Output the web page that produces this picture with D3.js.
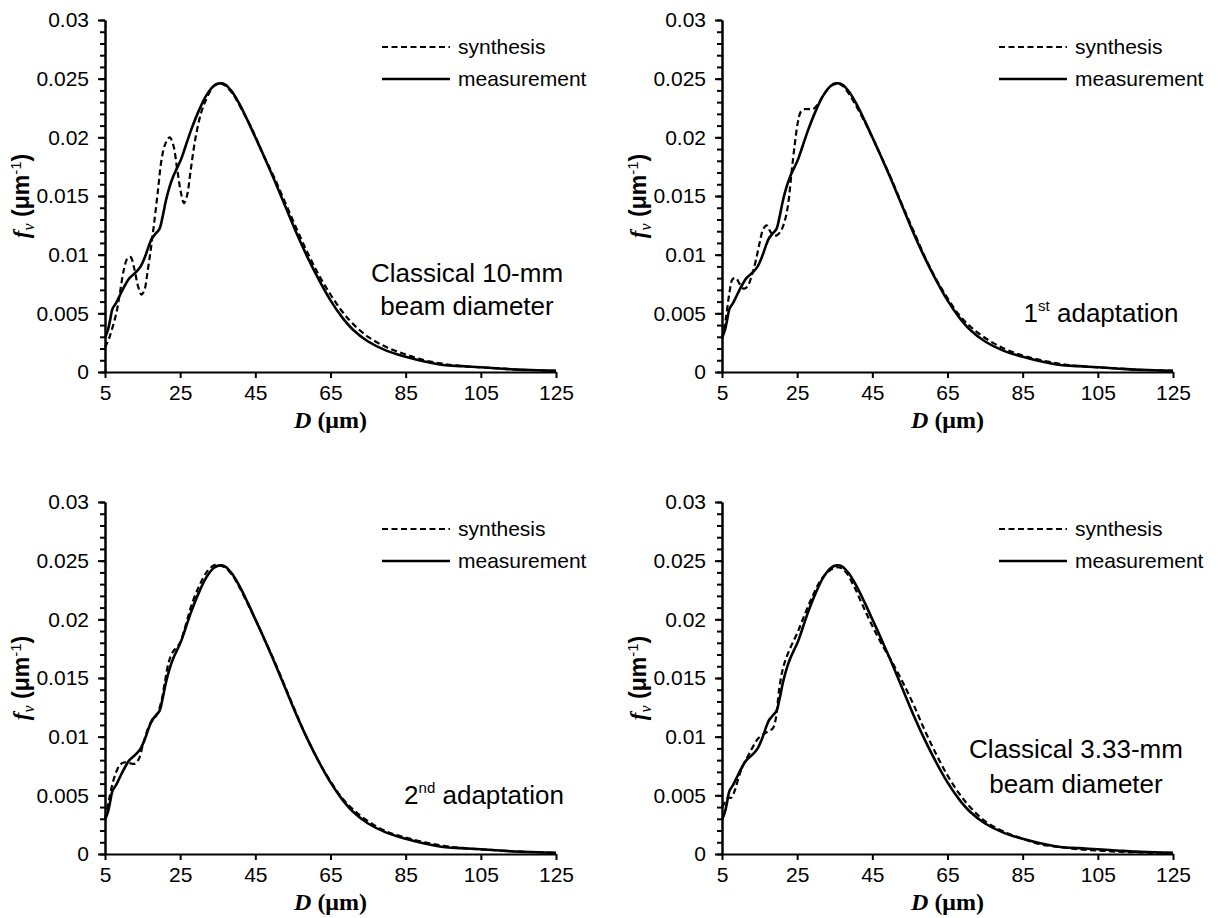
<!DOCTYPE html>
<html>
<head>
  <meta charset="utf-8">
  <script src="https://d3js.org/d3.v7.min.js"></script>
  <style>
    html, body { margin: 0; padding: 0; background: #fff; overflow: hidden; }
    svg { display: block; }
    svg text { font-family: "Liberation Sans", Arial, sans-serif; fill: #000; }
    .axis path, .axis line { stroke: #000; stroke-width: 2; }
    .axis text { font-size: 21px; }
  </style>
</head>
<body>
<div id="chart"></div>
<script>

    // tick values
    const xTicks = [5, 25, 45, 65, 85, 105, 125]
    const yTicks = [0, 0.005, 0.01, 0.015, 0.02, 0.025, 0.03]
    const yTickLabels = ["0", "0.005", "0.01", "0.015", "0.02", "0.025", "0.03"]

    // measured size distribution (same in every panel)
    const measD = [5, 5.8, 6.4, 7, 7.8, 8.6, 9.5, 10.5, 11.5, 12.5, 13.5, 14.5, 15.5, 16.5, 17.5, 18.5, 19.5, 20.3, 21.2, 22.2, 23.2, 24.2, 25.2, 26.5, 28, 30, 32, 34, 35.5, 37, 39, 41, 43, 45, 47, 50, 53, 56, 59, 62, 65, 68, 71, 75, 80, 85, 90, 95, 100, 105, 110, 115, 120, 125]
    const measF = [0.0029, 0.0036, 0.0045, 0.0054, 0.0058, 0.0063, 0.0069, 0.0075, 0.0080, 0.0083, 0.0086, 0.0090, 0.0097, 0.0106, 0.0114, 0.0118, 0.0122, 0.0132, 0.0146, 0.0158, 0.0167, 0.0174, 0.0181, 0.0193, 0.0207, 0.0223, 0.0236, 0.0244, 0.0246, 0.0245, 0.0238, 0.0227, 0.0214, 0.0200, 0.0186, 0.0164, 0.0141, 0.0118, 0.0097, 0.0078, 0.0061, 0.0047, 0.0036, 0.0026, 0.0018, 0.0013, 0.0009, 0.0006, 0.0005, 0.0004, 0.0003, 0.0002, 0.00015, 0.0001]

    // synthesis, classical 10-mm beam
    const syn10D = [5, 6, 7, 8, 9, 10, 11, 11.8, 12.8, 13.8, 14.7, 15.5, 16.3, 17.2, 18, 19, 20, 21, 22.2, 23.2, 24.2, 25.2, 26, 26.8, 27.8, 29, 30.5, 32, 34, 35.5, 37, 39, 41, 43, 45, 47, 50, 53, 56, 59, 62, 65, 68, 71, 75, 80, 85, 90, 95, 100, 105, 110, 115, 120, 125]
    const syn10F = [0.0021, 0.0028, 0.0038, 0.0050, 0.0068, 0.0087, 0.0097, 0.0098, 0.0088, 0.0073, 0.0066, 0.0070, 0.0085, 0.0105, 0.0125, 0.0152, 0.0180, 0.0194, 0.0200, 0.0193, 0.0173, 0.0153, 0.0144, 0.0150, 0.0172, 0.0198, 0.0220, 0.0233, 0.0244, 0.0246, 0.0244, 0.0237, 0.0226, 0.0214, 0.0201, 0.0186, 0.0166, 0.0144, 0.0122, 0.0101, 0.0082, 0.0066, 0.0052, 0.0041, 0.0030, 0.0021, 0.0015, 0.0010, 0.0007, 0.0005, 0.0004, 0.0003, 0.0002, 0.00015, 0.0001]

    // synthesis, 1st adaptation
    const synA1D = [5, 6, 7, 7.8, 8.7, 9.7, 10.8, 11.8, 13, 14, 15, 16, 16.9, 17.8, 18.8, 19.8, 20.8, 21.8, 22.6, 23.5, 24.4, 25.2, 26, 27, 28.2, 29.2, 30.5, 32, 34, 35.5, 37, 39, 41, 43, 45, 47, 50, 53, 56, 59, 62, 65, 68, 71, 75, 80, 85, 90, 95, 100, 105, 110, 115, 120, 125]
    const synA1F = [0.0028, 0.0045, 0.0068, 0.0079, 0.0080, 0.0075, 0.0071, 0.0073, 0.0083, 0.0095, 0.0110, 0.0122, 0.0125, 0.0120, 0.0116, 0.0117, 0.0121, 0.0130, 0.0143, 0.0170, 0.0195, 0.0213, 0.0222, 0.0224, 0.0224, 0.0224, 0.0228, 0.0236, 0.0244, 0.0246, 0.0244, 0.0236, 0.0225, 0.0213, 0.0200, 0.0186, 0.0165, 0.0142, 0.0120, 0.0098, 0.0079, 0.0063, 0.0049, 0.0039, 0.0029, 0.0020, 0.0014, 0.0010, 0.0007, 0.0005, 0.0004, 0.0003, 0.0002, 0.00015, 0.0001]

    // synthesis, 2nd adaptation
    const synA2D = [5, 6, 7, 8, 9, 10, 11, 12, 13, 14, 15, 16, 17, 18, 19, 20, 21, 22, 23, 24, 25, 26, 27, 28, 30, 32, 34, 35.5, 37, 39, 41, 43, 45, 47, 50, 53, 56, 59, 62, 65, 68, 71, 75, 80, 85, 90, 95, 100, 105, 110, 115, 120, 125]
    const synA2F = [0.0030, 0.0045, 0.0060, 0.0070, 0.0076, 0.0078, 0.0078, 0.0077, 0.0077, 0.0081, 0.0092, 0.0103, 0.0111, 0.0115, 0.0120, 0.0130, 0.0148, 0.0164, 0.0172, 0.0176, 0.0180, 0.0190, 0.0201, 0.0212, 0.0228, 0.0240, 0.0246, 0.0246, 0.0244, 0.0237, 0.0226, 0.0213, 0.0200, 0.0186, 0.0165, 0.0142, 0.0119, 0.0097, 0.0078, 0.0062, 0.0048, 0.0038, 0.0028, 0.0019, 0.0014, 0.0010, 0.0007, 0.0005, 0.0004, 0.0003, 0.0002, 0.00015, 0.0001]

    // synthesis, classical 3.33-mm beam
    const syn333D = [5, 5.8, 6.6, 7.5, 8.5, 9.5, 10.5, 11.5, 12.5, 13.5, 14.5, 15.5, 16.5, 17.5, 18.5, 19.3, 20.2, 21.2, 22.2, 23.5, 25, 27, 29, 31, 33, 35, 36.5, 38, 40, 42, 44, 46, 48, 50, 53, 56, 59, 62, 65, 68, 71, 75, 80, 85, 90, 95, 100, 105, 110, 115, 120, 125]
    const syn333F = [0.0040, 0.0044, 0.0048, 0.0048, 0.0055, 0.0066, 0.0075, 0.0081, 0.0087, 0.0093, 0.0098, 0.0101, 0.0103, 0.0105, 0.0107, 0.0115, 0.0140, 0.0158, 0.0168, 0.0178, 0.0188, 0.0204, 0.0219, 0.0232, 0.0240, 0.0244, 0.0244, 0.0240, 0.0229, 0.0215, 0.0201, 0.0188, 0.0176, 0.0165, 0.0147, 0.0127, 0.0105, 0.0085, 0.0067, 0.0052, 0.0040, 0.0028, 0.0019, 0.0013, 0.0008, 0.0006, 0.0004, 0.0003, 0.0002, 0.00015, 0.0001, 0.0001]

    const legendNames = ["synthesis", "measurement"]

    const panels = [
        { left: 105, top: 20,  synD: syn10D,  synF: syn10F,  note: ["Classical 10-mm", "beam diameter"], noteX: 362, noteY: [262, 295] },
        { left: 722, top: 20,  synD: synA1D,  synF: synA1F,  note: ["1", "st", " adaptation"], noteX: 379, noteY: [302] },
        { left: 105, top: 502, synD: synA2D,  synF: synA2F,  note: ["2", "nd", " adaptation"], noteX: 379, noteY: [302] },
        { left: 722, top: 502, synD: syn333D, synF: syn333F, note: ["Classical 3.33-mm", "beam diameter"], noteX: 354, noteY: [256, 291] }
    ]

    const width = 1218, height = 918
    const innerWidth = 451, innerHeight = 352

    const svg = d3.select("#chart").append("svg")
        .attr("width", width)
        .attr("height", height)

    const xScale = d3.scaleLinear().domain([5, 125]).range([0, innerWidth])
    const yScale = d3.scaleLinear().domain([0, 0.03]).range([innerHeight, 0])

    const line = d3.line()
        .x(d => xScale(d[0]))
        .y(d => yScale(d[1]))
        .curve(d3.curveCatmullRom.alpha(0.5))

    panels.forEach(p => {
        const g = svg.append("g").attr("transform", `translate(${p.left},${p.top})`)

        // minor ticks on y (no labels)
        g.append("g")
            .attr("class", "axis")
            .call(d3.axisLeft(yScale)
                .tickValues(d3.range(0, 0.0305, 0.001))
                .tickSize(5)
                .tickSizeOuter(0)
                .tickFormat(""))
            .selectAll("text").remove()

        g.append("g")
            .attr("class", "axis")
            .call(d3.axisLeft(yScale)
                .tickValues(yTicks)
                .tickSize(7)
                .tickSizeOuter(0)
                .tickPadding(9)
                .tickFormat((d, i) => yTickLabels[i]))

        g.append("g")
            .attr("class", "axis")
            .attr("transform", `translate(0,${innerHeight})`)
            .call(d3.axisBottom(xScale)
                .tickValues(xTicks)
                .tickSize(6)
                .tickSizeOuter(0)
                .tickPadding(7))

        // curves
        g.append("path")
            .datum(d3.zip(p.synD, p.synF))
            .attr("d", line)
            .attr("fill", "none")
            .attr("stroke", "#000")
            .attr("stroke-width", 2.2)
            .attr("stroke-dasharray", "6,3.5")

        g.append("path")
            .datum(d3.zip(measD, measF))
            .attr("d", line)
            .attr("fill", "none")
            .attr("stroke", "#000")
            .attr("stroke-width", 2.6)

        // x axis title
        const xt = g.append("text")
            .attr("x", xScale(65))
            .attr("y", innerHeight + 56)
            .attr("text-anchor", "middle")
            .style("font-family", "'Liberation Serif', 'Times New Roman', serif")
            .style("font-size", "24px")
            .style("font-weight", "bold")
        xt.append("tspan").style("font-style", "italic").text("D")
        xt.append("tspan").text(" (μm)")

        // y axis title
        const yt = g.append("text")
            .attr("transform", `translate(-76,${innerHeight / 2}) rotate(-90)`)
            .attr("text-anchor", "middle")
            .style("font-size", "23px")
        yt.append("tspan")
            .style("font-family", "'Liberation Serif', 'Times New Roman', serif")
            .style("font-style", "italic").style("font-weight", "bold")
            .text("f")
        yt.append("tspan")
            .style("font-family", "'Liberation Serif', 'Times New Roman', serif")
            .style("font-style", "italic")
            .style("font-size", "16px")
            .attr("dy", 5)
            .text("v")
        yt.append("tspan")
            .style("font-weight", "bold")
            .attr("dy", -5)
            .text(" (μm")
        yt.append("tspan")
            .style("font-size", "15px")
            .attr("dy", -8)
            .text("-1")
        yt.append("tspan")
            .style("font-weight", "bold")
            .attr("dy", 8)
            .text(")")

        // legend
        const lg = g.append("g").attr("transform", "translate(277,0)")
        legendNames.forEach((name, i) => {
            const ly = 27 + i * 32
            lg.append("line")
                .attr("x1", 0).attr("x2", 68)
                .attr("y1", ly).attr("y2", ly)
                .attr("stroke", "#000")
                .attr("stroke-width", i === 0 ? 2.2 : 2.6)
                .attr("stroke-dasharray", i === 0 ? "6,3.5" : null)
            lg.append("text")
                .attr("x", 76).attr("y", ly + 7)
                .style("font-size", "21px")
                .text(name)
        })

        // panel note
        if (p.noteY.length === 2) {
            p.note.forEach((t, i) => {
                g.append("text")
                    .attr("x", p.noteX).attr("y", p.noteY[i])
                    .attr("text-anchor", "middle")
                    .style("font-size", "26px")
                    .text(t)
            })
        } else {
            const nt = g.append("text")
                .attr("x", p.noteX).attr("y", p.noteY[0])
                .attr("text-anchor", "middle")
                .style("font-size", "26px")
            nt.append("tspan").text(p.note[0])
            nt.append("tspan").attr("dy", -11).style("font-size", "15px").text(p.note[1])
            nt.append("tspan").attr("dy", 11).text(p.note[2])
        }
    })

</script>
</body>
</html>
